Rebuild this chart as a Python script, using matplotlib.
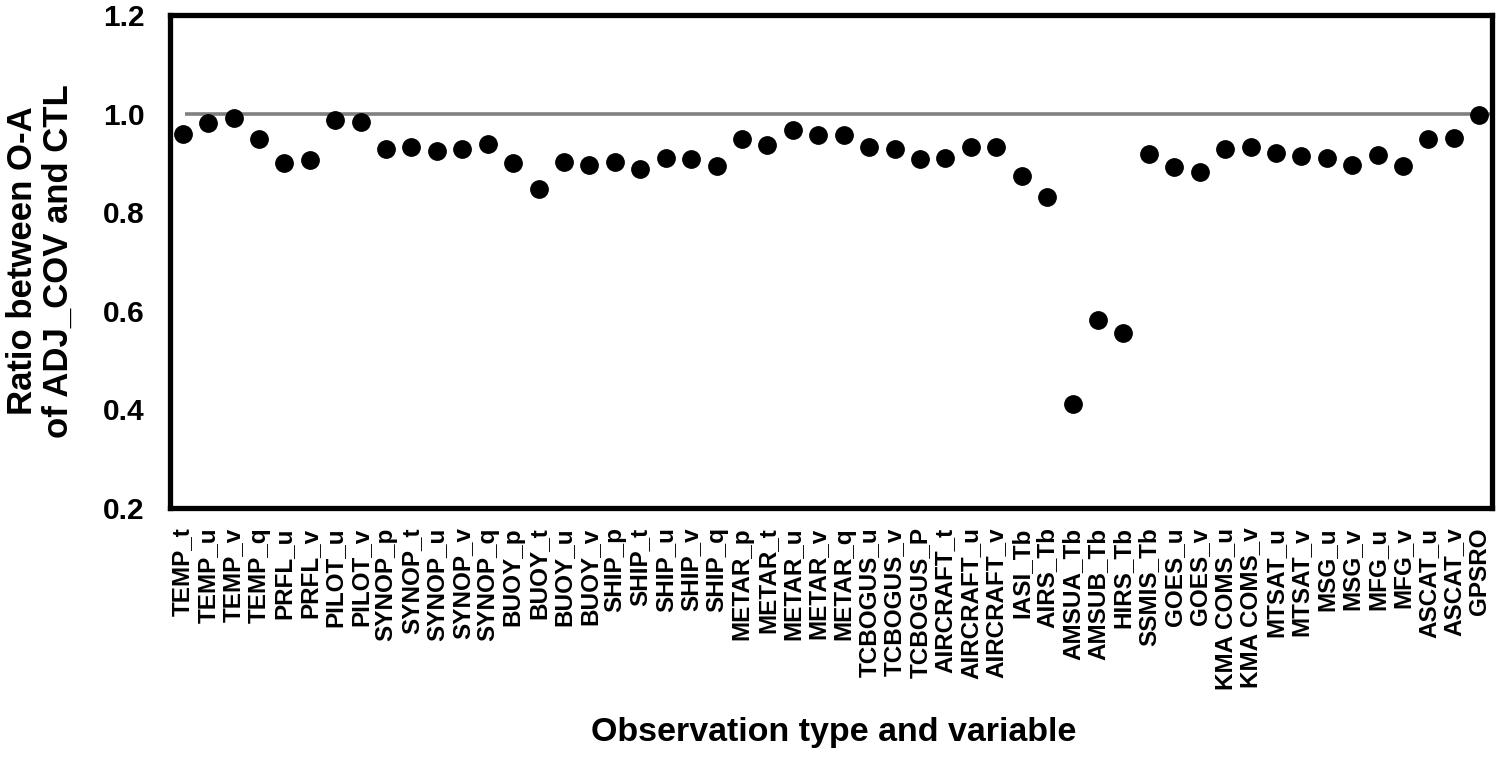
import matplotlib
matplotlib.use("Agg")
import matplotlib.pyplot as plt
import numpy as np

categories = ["TEMP_t", "TEMP_u", "TEMP_v", "TEMP_q", "PRFL_u", "PRFL_v",
              "PILOT_u", "PILOT_v", "SYNOP_p", "SYNOP_t", "SYNOP_u", "SYNOP_v",
              "SYNOP_q", "BUOY_p", "BUOY_t", "BUOY_u", "BUOY_v", "SHIP_p",
              "SHIP_t", "SHIP_u", "SHIP_v", "SHIP_q", "METAR_p", "METAR_t",
              "METAR_u", "METAR_v", "METAR_q", "TCBOGUS_u", "TCBOGUS_v",
              "TCBOGUS_P", "AIRCRAFT_t", "AIRCRAFT_u", "AIRCRAFT_v", "IASI_Tb",
              "AIRS_Tb", "AMSUA_Tb", "AMSUB_Tb", "HIRS_Tb", "SSMIS_Tb",
              "GOES_u", "GOES_v", "KMA COMS_u", "KMA COMS_v", "MTSAT_u",
              "MTSAT_v", "MSG_u", "MSG_v", "MFG_u", "MFG_v", "ASCAT_u",
              "ASCAT_v", "GPSRO"]

ratio = [0.958, 0.980, 0.991, 0.948, 0.899, 0.906,
         0.988, 0.983, 0.928, 0.932, 0.925, 0.929,
         0.938, 0.900, 0.847, 0.902, 0.896, 0.901,
         0.888, 0.910, 0.907, 0.894, 0.949, 0.936,
         0.967, 0.956, 0.956, 0.933, 0.928,
         0.907, 0.909, 0.933, 0.932, 0.873,
         0.831, 0.410, 0.581, 0.556, 0.918,
         0.891, 0.882, 0.928, 0.933, 0.921,
         0.914, 0.909, 0.896, 0.916, 0.894, 0.948,
         0.951, 0.998]

reference_value = 1.0
yticks = [0.2, 0.4, 0.6, 0.8, 1.0, 1.2]

plt.rcParams['font.family'] = ['Liberation Sans', 'DejaVu Sans']
plt.rcParams['font.weight'] = 'bold'

fig = plt.figure(figsize=(15, 7.68), dpi=100)
ax = fig.add_axes([0.1133, 0.3385, 0.8814, 0.642])

x = np.arange(len(categories)) + 0.5
ax.hlines(reference_value, 0.6, len(categories) - 0.1, color="#808080", linewidth=2.6, zorder=2)
ax.plot(x, ratio, linestyle="none", marker="o", markersize=12.5, color="black", zorder=3)

ax.set_xlim(0, len(categories))
ax.set_ylim(0.2, 1.2)
ax.set_yticks(yticks)
ax.set_yticklabels([f"{v:.1f}" for v in yticks], fontsize=21.5, fontweight="bold")
ax.set_xticks(x)
ax.set_xticklabels(categories, rotation=90, fontsize=17.5, fontweight="bold",
                   ha="center", va="top")
ax.tick_params(axis="both", length=0)
ax.tick_params(axis="x", pad=14)
ax.tick_params(axis="y", pad=18)

for s in ax.spines.values():
    s.set_linewidth(3.8)
    s.set_color("black")

fig.text(0.556, 0.026, "Observation type and variable", ha="center", va="bottom",
         fontsize=24.5, fontweight="bold")
fig.text(0.027, 0.66, "Ratio between O-A\nof ADJ_COV and CTL", rotation=90,
         ha="center", va="center", fontsize=25, fontweight="bold",
         multialignment="center", linespacing=1.12)

fig.savefig("out.png", dpi=100)
